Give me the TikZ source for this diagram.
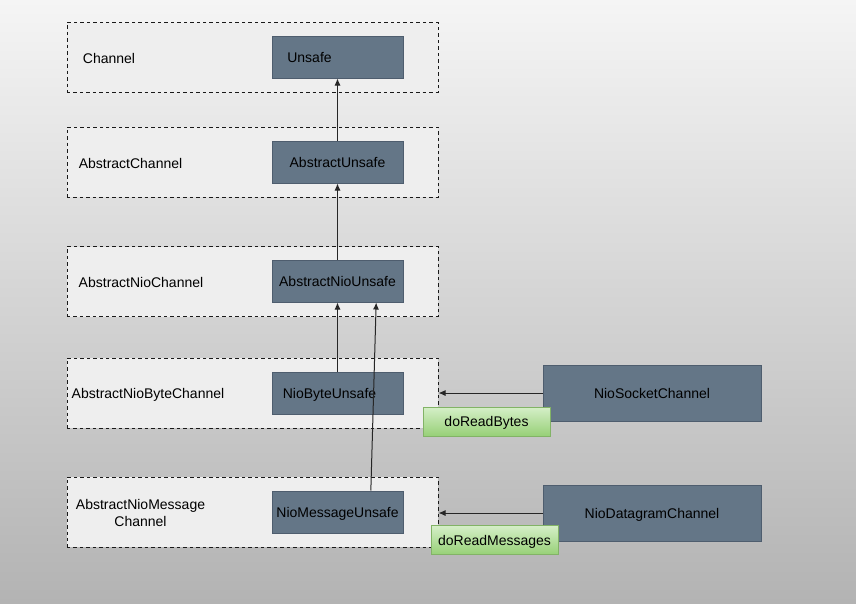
\documentclass[tikz,border=0pt]{standalone}
\usepackage{fontspec}
\setmainfont{Liberation Sans}
\usepackage{tikz}
\usetikzlibrary{arrows.meta}
\definecolor{bgtop}{HTML}{F5F5F5}
\definecolor{bgbot}{HTML}{B3B3B3}
\definecolor{slate}{HTML}{647687}
\definecolor{slateline}{HTML}{4E5D6E}
\definecolor{layerfill}{HTML}{EEEEEE}
\definecolor{greentop}{HTML}{D5EFC8}
\definecolor{greenbot}{HTML}{97D077}
\definecolor{greenline}{HTML}{82B366}

\begin{document}
\begin{tikzpicture}[x=0.75pt, y=-0.75pt, font=\fontsize{10.5}{12.6}\selectfont,
    layer_node/.style={rectangle, draw=black!90, fill=layerfill, line width=0.75pt, dash pattern=on 2.6pt off 2.25pt, minimum width=278.25pt, minimum height=52.5pt, inner sep=0},
    unsafe_node/.style={rectangle, draw=slateline, fill=slate, line width=0.75pt, minimum width=98.25pt, minimum height=31.5pt, inner sep=0, text depth=0pt},
    channel_node/.style={rectangle, draw=slateline, fill=slate, line width=0.75pt, minimum width=163.5pt, minimum height=42pt, inner sep=0, text depth=0pt},
    method_node/.style={rectangle, draw=greenline, top color=greentop, bottom color=greenbot, line width=0.75pt, minimum width=95.25pt, minimum height=21.75pt, inner sep=0, text depth=0pt},
    arrow_line/.style={-{Latex[length=5.25pt,width=4.5pt]}, draw=black!85, line width=0.75pt}]
    \shade[top color=bgtop, bottom color=bgbot] (0,0) rectangle (856,603);

    \node[layer_node] (1) at (252.5,57.5) {};
    \node[layer_node] (2) at (252.5,162) {};
    \node[layer_node] (3) at (252.5,281.5) {};
    \node[layer_node] (4) at (252.5,393) {};
    \node[layer_node] (5) at (252.5,512) {};
    \node (6) at (109,58.5) {Channel};
    \node (7) at (130.5,163) {AbstractChannel};
    \node (8) at (141,282.5) {AbstractNioChannel};
    \node (9) at (148,394.5) {AbstractNioByteChannel};
    \node[align=center] (10) at (140.5,513) {AbstractNioMessage\\Channel};

    \node[unsafe_node] (11) at (337.5,57) {Unsafe\hspace*{42pt}};
    \node[unsafe_node] (12) at (337.5,162) {AbstractUnsafe};
    \node[unsafe_node] (13) at (337.5,281) {AbstractNioUnsafe};
    \node[unsafe_node] (14) at (337.5,393) {NioByteUnsafe\hspace*{12pt}};
    \node[unsafe_node] (15) at (337.5,512) {NioMessageUnsafe};
    \node[channel_node] (16) at (652,393) {NioSocketChannel};
    \node[channel_node] (17) at (652,513) {NioDatagramChannel};

    \draw[arrow_line] (12) -- (11);
    \draw[arrow_line] (13) -- (12);
    \draw[arrow_line] (14) -- (13);
    \draw[arrow_line] ([xshift=25pt]15.north) -- ([xshift=29pt]13.south);
    \draw[arrow_line] (16) -- (4);
    \draw[arrow_line] (17) -- (17 -| 5.east);

    \node[method_node] (18) at (486.5,421.5) {doReadBytes};
    \node[method_node] (19) at (494.5,540) {doReadMessages};
\end{tikzpicture}
\end{document}
